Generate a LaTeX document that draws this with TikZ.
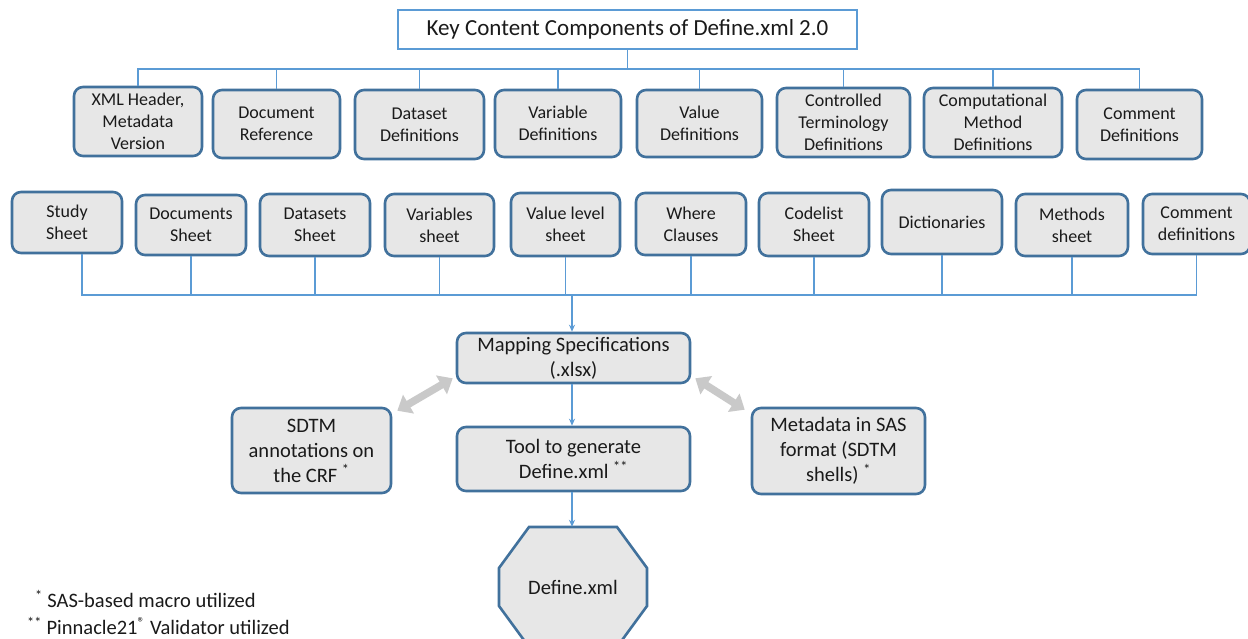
\documentclass[tikz,border=0pt]{standalone}
\usepackage{fontspec}
\setmainfont{Carlito}
\usetikzlibrary{arrows.meta}
\definecolor{boxblue}{HTML}{41719C}
\definecolor{boxgray}{HTML}{E7E7E7}
\definecolor{linkblue}{HTML}{5B9BD5}
\definecolor{arrgray}{HTML}{C9C9C9}
\definecolor{txt}{HTML}{1A1A1A}
\tikzset{
  box/.style={draw=boxblue, line width=2.6pt, fill=boxgray, rounded corners=9pt,
    align=center, inner sep=0pt, text=txt, font=\fontsize{18}{22}\selectfont},
  bigbox/.style={box, font=\fontsize{20.5}{25}\selectfont},
  sz/.style 2 args={minimum width=#1pt, minimum height=#2pt},
  conn/.style={draw=linkblue, line width=1.3pt},
  connarr/.style={conn, -{Stealth[length=7pt,width=6pt]}},
  grayarr/.style={draw=arrgray, line width=7.5pt, {Triangle[width=21pt,length=13pt]}-{Triangle[width=21pt,length=13pt]}},
  note/.style={anchor=west, inner sep=0pt, text=txt, font=\fontsize{20.5}{25}\selectfont}
}
\begin{document}
\begin{tikzpicture}[x=1pt,y=-1pt]
\useasboundingbox (0,0) rectangle (1248,638);
\clip (0,0) rectangle (1248,638);
\fill[white] (0,0) rectangle (1248,638);

% title
\node[draw=linkblue, line width=2pt, fill=white, sz={459}{39}, inner sep=0pt, text=txt,
  font=\fontsize{23}{28}\selectfont] (title) at (627.5,29.5) {Key Content Components of Define.xml 2.0};

% row 1
\node[box, sz={128}{69}] (r1a) at (138,121.5) {XML Header,\\Metadata\\Version};
\node[box, sz={127}{68}] (r1b) at (276.5,124) {Document\\Reference};
\node[box, sz={129}{69}] (r1c) at (419.5,124.5) {Dataset\\Definitions};
\node[box, sz={126}{67}] (r1d) at (558,123.5) {Variable\\Definitions};
\node[box, sz={125}{67}] (r1e) at (699.5,123.5) {Value\\Definitions};
\node[box, sz={133}{69}] (r1f) at (843.5,122.5) {Controlled\\Terminology\\Definitions};
\node[box, sz={138}{69}] (r1g) at (993,122.5) {Computational\\Method\\Definitions};
\node[box, sz={125}{69}] (r1h) at (1139.5,124.5) {Comment\\Definitions};

% top bus
\coordinate (tbus) at (627.5,69);
\draw[conn] (title.south) -- (tbus);
\draw[conn] (r1a.north) -- (r1a.north |- tbus) -- (r1h.north |- tbus) -- (r1h.north);
\foreach \n in {r1b,r1c,r1d,r1e,r1f,r1g} \draw[conn] (\n.north) -- (\n.north |- tbus);

% row 2
\node[box, sz={110}{61}] (r2a) at (67,222.5) {Study\\Sheet};
\node[box, sz={110}{60}] (r2b) at (191,225) {Documents\\Sheet};
\node[box, sz={110}{62}] (r2c) at (315,225) {Datasets\\Sheet};
\node[box, sz={109}{62}] (r2d) at (439.5,225) {Variables\\sheet};
\node[box, sz={109}{63}] (r2e) at (565.5,224.5) {Value level\\sheet};
\node[box, sz={110}{62}] (r2f) at (691,224) {Where\\Clauses};
\node[box, sz={110}{63}] (r2g) at (814,224.5) {Codelist\\Sheet};
\node[box, sz={120}{64}] (r2h) at (942,222) {Dictionaries};
\node[box, sz={112}{62}] (r2i) at (1072,225) {Methods\\sheet};
\node[box, sz={107}{60}] (r2j) at (1196.5,224) {Comment\\definitions};

% bottom bus
\coordinate (bbus) at (572,295);
\draw[conn] ([xshift=15pt]r2a.south) -- ([xshift=15pt]r2a.south |- bbus) -- (r2j.south |- bbus) -- (r2j.south);
\foreach \n in {r2b,r2c,r2d,r2e,r2f,r2g,r2h,r2i} \draw[conn] (\n.south) -- (\n.south |- bbus);

% middle
\node[bigbox, sz={233}{50}] (map) at (573.5,358) {Mapping Specifications\\(.xlsx)};
\node[bigbox, sz={233}{64}] (tool) at (573.5,459) {Tool to generate\\Define.xml \textsuperscript{**}};
\node[bigbox, sz={159}{85}] (sdtm) at (311.5,450.5) {SDTM\\annotations on\\the CRF \textsuperscript{*}};
\node[bigbox, sz={173}{86}] (meta) at (838.5,451) {Metadata in SAS\\format (SDTM\\shells) \textsuperscript{*}};

% octagon
\draw[draw=boxblue, line width=2.6pt, fill=boxgray]
  (529,527) -- (617,527) -- (647,568) -- (647,606) -- (617,647) -- (529,647) -- (499,606) -- (499,568) -- cycle;
\node[inner sep=0pt, sz={148}{120}, text=txt, font=\fontsize{20.5}{25}\selectfont] (def) at (573,587) {Define.xml};

% arrows
\draw[connarr] (bbus) -- (map.north -| bbus);
\draw[connarr] (map.south -| bbus) -- (tool.north -| bbus);
\draw[connarr] (tool.south -| bbus) -- (def.north -| bbus);
\draw[grayarr] ([shift={(5,4)}]sdtm.north east) -- ([shift={(-3,-6)}]map.south west);
\draw[grayarr] ([shift={(4,-6)}]map.south east) -- ([shift={(-6,3)}]meta.north west);

% footnotes
\node[note] (n1) at (35,599) {\textsuperscript{*} SAS-based macro utilized};
\node[note] (n2) at (27,626) {\textsuperscript{**} Pinnacle21\textsuperscript{\textregistered} Validator utilized};
\end{tikzpicture}
\end{document}
